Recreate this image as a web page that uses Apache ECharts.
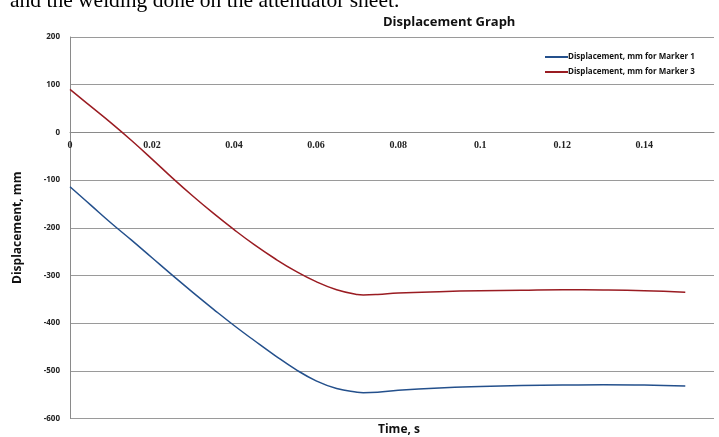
<!DOCTYPE html>
<html>
<head>
<meta charset="utf-8">
<script src="https://cdn.jsdelivr.net/npm/echarts@6/dist/echarts.min.js"></script>
<style>html,body{margin:0;padding:0;background:#fff;}#c{width:719px;height:437px;}</style>
</head>
<body>
<div id="c"></div>
<script>
const timeS = [0, 0.005, 0.01, 0.015, 0.02, 0.025, 0.03, 0.035, 0.04, 0.045, 0.05, 0.055, 0.06, 0.065, 0.07, 0.0715, 0.075, 0.08, 0.09, 0.1, 0.11, 0.12, 0.13, 0.14, 0.15];
const marker1 = [-114, -152, -190, -226, -263, -300, -336, -371, -405, -437, -468, -497, -521, -537, -545, -546, -545, -541, -536, -533, -531, -530, -529, -529.5, -532];
const marker3 = [90, 55, 20, -17, -56, -96, -134, -170, -204, -236, -265, -291, -313, -330, -340, -341, -340, -337, -334, -332, -331, -330, -330.5, -332, -335];
const seriesNames = ['Displacement, mm for Marker 1', 'Displacement, mm for Marker 3'];
const yTicks = { min: -600, max: 200, step: 100 };
const xTicks = { min: 0, max: 0.157, step: 0.02 };

const chart = echarts.init(document.getElementById('c'));
const pairs = arr => timeS.map((t, i) => [t, arr[i]]);
chart.setOption({
  animation: false,
  backgroundColor: '#fff',
  title: {
    text: 'Displacement Graph', left: 378, top: 11,
    textStyle: { fontFamily: 'Open Sans', fontWeight: 'bold', fontSize: 13, color: '#111' }
  },
  legend: {
    orient: 'vertical', left: 540, top: 48, itemGap: 7,
    icon: 'rect', itemWidth: 23, itemHeight: 2,
    textStyle: { fontFamily: 'Open Sans', fontWeight: 'bold', fontSize: 8, color: '#111', padding: [0, 0, 0, -5] },
    data: seriesNames
  },
  grid: { left: 70, right: 5, top: 37, bottom: 18.5, containLabel: false },
  xAxis: {
    type: 'value', min: xTicks.min, max: xTicks.max, interval: xTicks.step,
    offset: -286.2,
    axisLine: { onZero: false, lineStyle: { color: '#8a8a8a', width: 1 } },
    axisTick: { show: false },
    splitLine: { show: false },
    axisLabel: { showMaxLabel: false, margin: 8, fontFamily: 'Liberation Serif', fontWeight: 'bold', fontSize: 10, color: '#222' }
  },
  yAxis: {
    type: 'value', min: yTicks.min, max: yTicks.max, interval: yTicks.step,
    name: 'Displacement, mm', nameLocation: 'middle', nameRotate: 90, nameGap: 46,
    nameTextStyle: { fontFamily: 'Open Sans', fontWeight: 'bold', fontSize: 12, color: '#111' },
    axisLine: { show: true, lineStyle: { color: '#8a8a8a', width: 1 } },
    axisTick: { show: false },
    splitLine: { lineStyle: { color: '#9a9a9a', width: 1 } },
    axisLabel: { margin: 10, fontFamily: 'Open Sans', fontWeight: 'bold', fontSize: 8, color: '#222' }
  },
  series: [
    { name: seriesNames[0], type: 'line', data: pairs(marker1), smooth: 0.45, showSymbol: false,
      lineStyle: { color: '#24508c', width: 1.5 }, itemStyle: { color: '#24508c' } },
    { name: seriesNames[1], type: 'line', data: pairs(marker3), smooth: 0.45, showSymbol: false,
      lineStyle: { color: '#9a1c22', width: 1.5 }, itemStyle: { color: '#9a1c22' } }
  ],
  graphic: [
    { type: 'text', left: 10, top: -10, style: { text: 'and the welding done on the attenuator sheet.', font: '21.5px "Liberation Serif"', fill: '#000' } },
    { type: 'text', left: 378, top: 424, style: { text: 'Time, s', font: 'bold 12px "Open Sans"', fill: '#111' } }
  ]
});
</script>
</body>
</html>
